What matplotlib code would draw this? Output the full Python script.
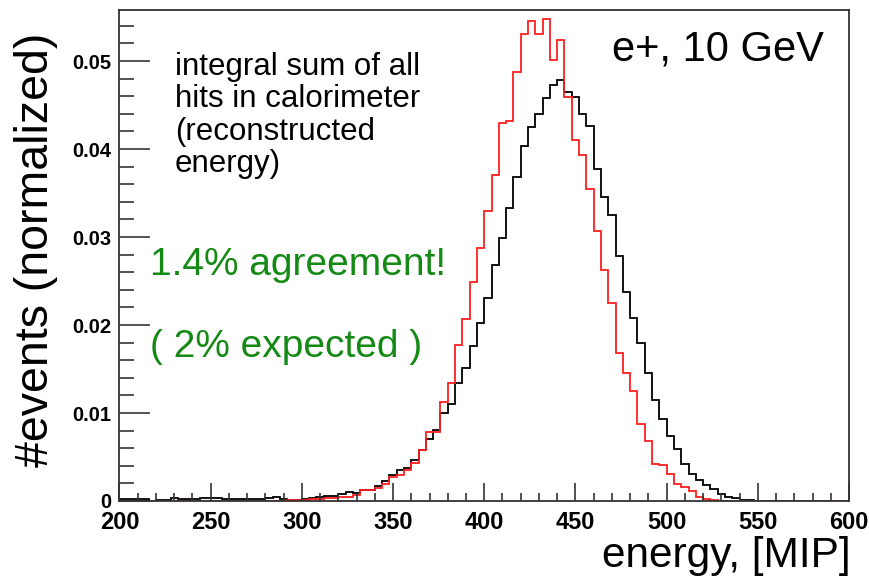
import numpy as np
import matplotlib
matplotlib.use("Agg")
import matplotlib.pyplot as plt
from matplotlib.ticker import MultipleLocator

plt.rcParams['font.family'] = ['Liberation Sans', 'DejaVu Sans']

# histogram binning: 100 bins of 4 MIP between 200 and 600
bin_width = 4
bin_edges = np.arange(200, 600 + bin_width, bin_width)

# black histogram
black_hist = [
    0.0002, 0.0002, 0.0002, 0.0002, 0.0000, 0.0001, 0.0001, 0.0003, 0.0002, 0.0002,
    0.0002, 0.0003, 0.0003, 0.0003, 0.0002, 0.0002, 0.0002, 0.0002, 0.0002, 0.0002,
    0.0003, 0.0004, 0.0002, 0.0001, 0.0001, 0.0002, 0.0003, 0.0004, 0.0006, 0.0006,
    0.0008, 0.0010, 0.0009, 0.0013, 0.0013, 0.0017, 0.0023, 0.0029, 0.0035, 0.0038,
    0.0047, 0.0058, 0.0070, 0.0081, 0.0100, 0.0110, 0.0134, 0.0151, 0.0176, 0.0202,
    0.0231, 0.0268, 0.0299, 0.0333, 0.0368, 0.0403, 0.0425, 0.0440, 0.0458, 0.0473,
    0.0478, 0.0465, 0.0459, 0.0440, 0.0426, 0.0377, 0.0346, 0.0325, 0.0279, 0.0238,
    0.0208, 0.0179, 0.0145, 0.0115, 0.0093, 0.0074, 0.0059, 0.0042, 0.0031, 0.0024,
    0.0018, 0.0014, 0.0008, 0.0005, 0.0003, 0.0001, 0.0001, 0.0000, 0.0000, 0.0000,
    0.0000, 0.0000, 0.0000, 0.0000, 0.0000, 0.0000, 0.0000, 0.0000, 0.0000, 0.0000,
]

# red histogram
red_hist = [
    0.0000, 0.0000, 0.0000, 0.0000, 0.0000, 0.0000, 0.0000, 0.0000, 0.0000, 0.0000,
    0.0000, 0.0000, 0.0000, 0.0000, 0.0000, 0.0000, 0.0000, 0.0000, 0.0000, 0.0000,
    0.0000, 0.0000, 0.0000, 0.0001, 0.0001, 0.0001, 0.0002, 0.0002, 0.0003, 0.0003,
    0.0004, 0.0005, 0.0007, 0.0012, 0.0013, 0.0015, 0.0019, 0.0027, 0.0030, 0.0035,
    0.0043, 0.0058, 0.0078, 0.0078, 0.0112, 0.0134, 0.0177, 0.0207, 0.0249, 0.0288,
    0.0330, 0.0370, 0.0430, 0.0432, 0.0487, 0.0531, 0.0546, 0.0531, 0.0548, 0.0501,
    0.0524, 0.0459, 0.0410, 0.0393, 0.0355, 0.0307, 0.0263, 0.0225, 0.0168, 0.0145,
    0.0125, 0.0088, 0.0068, 0.0042, 0.0041, 0.0031, 0.0019, 0.0016, 0.0011, 0.0005,
    0.0002, 0.0001, 0.0000, 0.0000, 0.0000, 0.0000, 0.0000, 0.0000, 0.0000, 0.0000,
    0.0000, 0.0000, 0.0000, 0.0000, 0.0000, 0.0000, 0.0000, 0.0000, 0.0000, 0.0000,
]

W, H = 870, 579
fig = plt.figure(figsize=(W / 100, H / 100), dpi=100)
ax = fig.add_axes([119.5 / W, 1 - 501 / H, (849 - 119.5) / W, (501 - 10) / H])

ax.stairs(black_hist, bin_edges, color='black', lw=1.3)
ax.stairs(red_hist, bin_edges, color='#ff2020', lw=1.3)

ax.set_xlim(200, 600)
ax.set_ylim(0, 0.0558)

# ROOT-like frame and ticks
for sp in ax.spines.values():
    sp.set_color('#333333')
    sp.set_linewidth(1.3)
ax.xaxis.set_major_locator(MultipleLocator(50))
ax.xaxis.set_minor_locator(MultipleLocator(10))
ax.yaxis.set_major_locator(MultipleLocator(0.01))
ax.yaxis.set_minor_locator(MultipleLocator(0.002))
ax.tick_params(which='both', direction='in', top=False, right=False, color='#333333', width=1.2)
ax.tick_params(axis='x', which='major', length=13, pad=7)
ax.tick_params(axis='x', which='minor', length=6)
ax.tick_params(axis='y', which='major', length=22, pad=6)
ax.tick_params(axis='y', which='minor', length=11)
ax.set_xticklabels([f'{int(v)}' for v in ax.get_xticks()], fontsize=17, fontweight='bold')
ax.set_yticks([0, 0.01, 0.02, 0.03, 0.04, 0.05])
ax.set_yticklabels(['0', '0.01', '0.02', '0.03', '0.04', '0.05'], fontsize=14.5, fontweight='bold')


def px(x, y):
    return x / W, 1 - y / H


fig.text(*px(36, 250), '#events (normalized)', rotation=90, fontsize=33.5,
         ha='center', va='center')
fig.text(*px(851, 567), 'energy, [MIP]', fontsize=30.5, ha='right', va='baseline')
fig.text(*px(612, 60), 'e+, 10 GeV', fontsize=30, ha='left', va='baseline')
fig.text(*px(175, 52), 'integral sum of all\nhits in calorimeter\n(reconstructed\nenergy)',
         fontsize=22.5, ha='left', va='top', linespacing=1.1)
fig.text(*px(150, 275), '1.4% agreement!', fontsize=28, color='#148a14',
         ha='left', va='baseline')
fig.text(*px(150, 357), '( 2% expected )', fontsize=28, color='#148a14',
         ha='left', va='baseline')

fig.savefig('out.png', dpi=100)
